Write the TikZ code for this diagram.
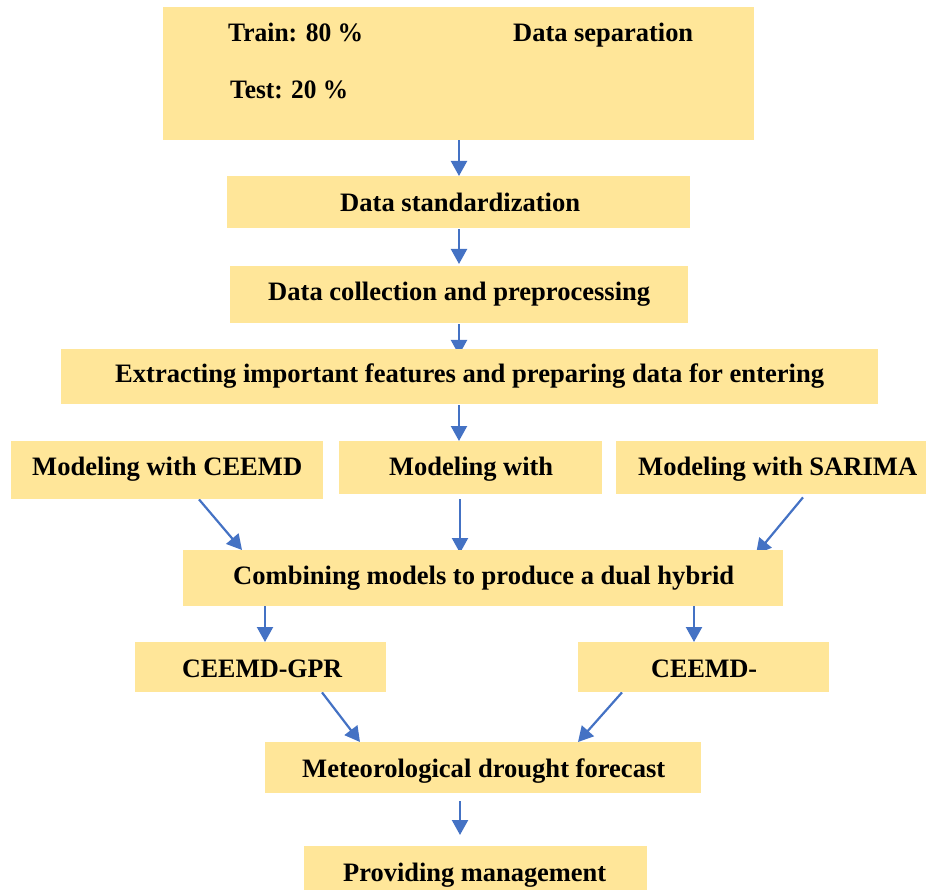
\documentclass[tikz,border=0pt]{standalone}
\usepackage{fontspec}
\setmainfont{Liberation Serif}
\usetikzlibrary{arrows.meta,calc,backgrounds}
\definecolor{boxfill}{HTML}{FFE699}
\definecolor{arrblue}{HTML}{4472C4}
\newcommand\fitw[2]{\resizebox{#1pt}{\height}{#2}}
\tikzset{
  box/.style={fill=boxfill, draw=none, inner sep=0pt, anchor=north west},
  lbl/.style={anchor=base west, inner sep=0pt, font=\fontsize{26.6}{30}\selectfont\bfseries},
  arr/.style={draw=arrblue, line width=2.2pt, -{Triangle[width=16pt,length=15pt]}}
}
\begin{document}
\begin{tikzpicture}[x=1pt,y=-1pt]
\useasboundingbox (0,0) rectangle (926,890);
% boxes
\node[box, minimum width=591, minimum height=133] (sep) at (163,7) {};
\node[box, minimum width=463, minimum height=52] (std) at (227,176) {};
\node[box, minimum width=458, minimum height=57] (coll) at (230,266) {};
\node[box, minimum width=817, minimum height=55] (extr) at (61,349) {};
\node[box, minimum width=312, minimum height=58] (mone) at (11,441) {};
\node[box, minimum width=263, minimum height=53] (mtwo) at (339,441) {};
\node[box, minimum width=310, minimum height=53] (mthree) at (616,441) {};
\node[box, minimum width=600, minimum height=56] (comb) at (183,550) {};
\node[box, minimum width=251, minimum height=50] (gpr) at (135,642) {};
\node[box, minimum width=251, minimum height=50] (ceemd) at (578,642) {};
\node[box, minimum width=436, minimum height=51] (met) at (265,742) {};
\node[box, minimum width=343, minimum height=44] (prov) at (304,846) {};
% labels
\node[lbl] (ttrain) at (228,42) {\fitw{135}{Train: 80 \%}};
\node[lbl] (tsep) at (513,42) {\fitw{180}{Data separation}};
\node[lbl] (ttest) at (230,99) {\fitw{118}{Test: 20 \%}};
\node[lbl] (tstd) at (340,212) {\fitw{240}{Data standardization}};
\node[lbl] (tcoll) at (268,301) {\fitw{382}{Data collection and preprocessing}};
\node[lbl] (textr) at (115,383) {\fitw{709}{Extracting important features and preparing data for entering}};
\node[lbl] (tmone) at (32,475) {\fitw{270}{Modeling with CEEMD}};
\node[lbl] (tmtwo) at (389,475) {\fitw{164}{Modeling with}};
\node[lbl] (tmthree) at (638,475) {\fitw{279}{Modeling with SARIMA}};
\node[lbl] (tcomb) at (233,584) {\fitw{501}{Combining models to produce a dual hybrid}};
\node[lbl] (tgpr) at (182,677) {\fitw{160}{CEEMD-GPR}};
\node[lbl] (tceemd) at (651,677) {\fitw{106}{CEEMD-}};
\node[lbl] (tmet) at (302,777) {\fitw{363}{Meteorological drought forecast}};
\node[lbl] (tprov) at (343,881) {\fitw{263}{Providing management}};
% connectors
\begin{scope}[on background layer]
\draw[arr] (sep.south -| 459,0) -- (std.north -| 459,0);
\draw[arr] ($(std.south -| 459,0)+(0,1)$) -- ($(coll.north -| 459,0)+(0,-2)$);
\draw[arr] ($(coll.south -| 459,0)+(0,1)$) -- ($(extr.north -| 459,0)+(0,6)$);
\draw[arr] ($(extr.south -| 459,0)+(0,1)$) -- (mtwo.north -| 459,0);
\draw[arr] ($(mone.south west)+(188,0)$) -- ($(comb.north west)+(59,0)$);
\draw[arr] ($(mtwo.south -| 460,0)+(0,5)$) -- ($(comb.north -| 460,0)+(0,3)$);
\draw[arr] ($(mthree.south west)+(187,3)$) -- ($(comb.north west)+(573,4)$);
\draw[arr] (comb.south -| 265,0) -- (gpr.north -| 265,0);
\draw[arr] (comb.south -| 694,0) -- (ceemd.north -| 694,0);
\draw[arr] ($(gpr.south west)+(187,0)$) -- ($(met.north west)+(95,0)$);
\draw[arr] ($(ceemd.south west)+(44,0)$) -- ($(met.north west)+(313,0)$);
\draw[arr] ($(met.south -| 460,0)+(0,8)$) -- ($(prov.north -| 460,0)+(0,-11)$);
\end{scope}
\end{tikzpicture}
\end{document}
